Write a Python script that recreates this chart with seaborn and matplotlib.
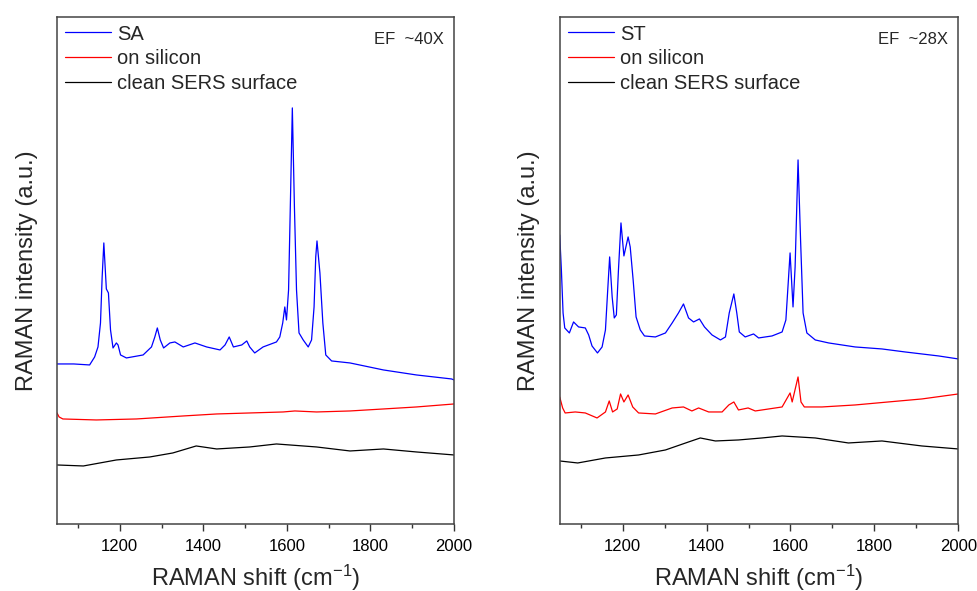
import matplotlib
matplotlib.use("Agg")
import matplotlib.pyplot as plt
import seaborn as sns
import pandas as pd

# Raman shift (cm-1) / intensity (a.u.)
sa_x = [1050, 1090, 1128, 1140, 1148, 1154, 1158, 1162, 1168, 1173, 1178, 1184, 1192, 1196, 1202, 1216,
        1256, 1276, 1284, 1290, 1297, 1305, 1320, 1332, 1352, 1380, 1408, 1440, 1452, 1462, 1472, 1492,
        1504, 1511, 1523, 1543, 1575, 1583, 1590, 1595, 1599, 1604, 1609, 1613, 1618, 1623, 1629, 1639,
        1651, 1659, 1665, 1669, 1672, 1679, 1686, 1693, 1707, 1751, 1831, 1910, 1994, 2000]
sa_y = [160, 160, 159, 167, 177, 201, 247, 281, 235, 231, 194, 176, 181, 179, 169, 166,
        169, 177, 187, 196, 184, 176, 181, 182, 177, 181, 177, 174, 179, 187, 177, 179,
        183, 177, 171, 177, 182, 187, 201, 217, 204, 234, 334, 416, 317, 234, 191, 184,
        177, 184, 217, 267, 283, 251, 201, 169, 163, 161, 154, 149, 145, 144]

si_a_x = [1050, 1055, 1064, 1144, 1240, 1352, 1432, 1511, 1591, 1619, 1671, 1751, 1831, 1910, 2000]
si_a_y = [111, 107, 105, 104, 105, 108, 110, 111, 112, 113, 112, 113, 115, 117, 120]

cl_a_x = [1050, 1113, 1192, 1272, 1327, 1383, 1432, 1511, 1575, 1671, 1751, 1831, 1910, 2000]
cl_a_y = [59, 58, 64, 67, 71, 78, 75, 77, 80, 77, 73, 75, 72, 69]

st_x = [1050, 1054, 1058, 1062, 1073, 1083, 1095, 1111, 1119, 1127, 1140, 1151, 1159, 1164, 1169, 1175,
        1180, 1185, 1190, 1196, 1203, 1213, 1218, 1225, 1232, 1242, 1252, 1278, 1302, 1318, 1333, 1345,
        1357, 1369, 1383, 1395, 1413, 1433, 1445, 1454, 1465, 1472, 1478, 1492, 1512, 1524, 1556, 1580,
        1589, 1595, 1599, 1606, 1611, 1618, 1624, 1630, 1639, 1659, 1691, 1754, 1818, 1873, 1953, 2000]
st_y = [289, 254, 211, 196, 191, 202, 197, 196, 189, 178, 171, 177, 194, 231, 267, 227,
        206, 209, 254, 301, 268, 287, 277, 244, 207, 194, 188, 187, 191, 201, 211, 220,
        206, 202, 205, 197, 189, 184, 187, 211, 230, 211, 192, 187, 190, 186, 188, 192,
        204, 244, 271, 217, 257, 364, 284, 211, 191, 184, 181, 177, 175, 172, 168, 165]

si_b_x = [1050, 1057, 1063, 1087, 1111, 1139, 1159, 1168, 1176, 1187, 1195, 1203, 1213, 1224, 1238, 1278,
          1318, 1345, 1365, 1381, 1405, 1437, 1453, 1465, 1476, 1499, 1516, 1580, 1599, 1604, 1618, 1625,
          1633, 1675, 1754, 1833, 1913, 2000]
si_b_y = [127, 116, 111, 112, 111, 106, 112, 123, 112, 115, 130, 122, 129, 117, 111, 110,
          116, 117, 113, 116, 112, 112, 119, 122, 114, 116, 113, 117, 131, 122, 147, 122,
          117, 117, 119, 122, 125, 130]

cl_b_x = [1050, 1093, 1159, 1238, 1302, 1357, 1385, 1421, 1476, 1532, 1580, 1659, 1738, 1818, 1913, 2000]
cl_b_y = [63, 61, 66, 69, 74, 82, 86, 83, 84, 86, 88, 86, 81, 83, 78, 75]

labels_a = ['SA', 'on silicon', 'clean SERS surface']
labels_b = ['ST', 'on silicon', 'clean SERS surface']
ef_a = 'EF  ~40X'
ef_b = 'EF  ~28X'
colors = ['#0000ff', '#ff0000', '#000000']


def make_df(xs, ys, names):
    parts = []
    for x, y, n in zip(xs, ys, names):
        parts.append(pd.DataFrame({'shift': x, 'intensity': y, 'series': n}))
    return pd.concat(parts, ignore_index=True)


df_a = make_df([sa_x, si_a_x, cl_a_x], [sa_y, si_a_y, cl_a_y], labels_a)
df_b = make_df([st_x, si_b_x, cl_b_x], [st_y, si_b_y, cl_b_y], labels_b)

sns.set_style('ticks')
plt.rcParams['font.family'] = ['Liberation Sans', 'DejaVu Sans']
plt.rcParams['mathtext.fontset'] = 'custom'
plt.rcParams['mathtext.rm'] = 'Liberation Sans'
plt.rcParams['mathtext.default'] = 'regular'

fig = plt.figure(figsize=(9.78, 5.91), dpi=100)
ax1 = fig.add_axes([0.0583, 0.1134, 0.406, 0.858])
ax2 = fig.add_axes([0.5723, 0.1134, 0.4076, 0.858])

for ax, df, labels, ef in [(ax1, df_a, labels_a, ef_a), (ax2, df_b, labels_b, ef_b)]:
    sns.lineplot(data=df, x='shift', y='intensity', hue='series', hue_order=labels,
                 palette=colors, estimator=None, sort=False, linewidth=0.9, ax=ax)
    ax.set_xlim(1050, 2000)
    ax.set_ylim(0, 507)
    ax.set_xticks([1200, 1400, 1600, 1800, 2000])
    ax.set_xticks(range(1100, 2000, 200), minor=True)
    ax.set_yticks([])
    ax.tick_params(axis='x', which='major', direction='out', length=5, width=1,
                   labelsize=12, colors='#333333', labelcolor='black', pad=6)
    ax.tick_params(axis='x', which='minor', direction='out', length=3, width=1, colors='#333333')
    for sp in ax.spines.values():
        sp.set_visible(True)
        sp.set_color('#444444')
        sp.set_linewidth(1.1)
    ax.set_xlabel('RAMAN shift (cm$^{-1}$)', fontsize=17, labelpad=6)
    ax.set_ylabel('RAMAN intensity (a.u.)', fontsize=17, labelpad=14)
    handles, labs = ax.get_legend_handles_labels()
    ax.legend(handles, labs, loc='upper left', bbox_to_anchor=(0.02, 0.985), frameon=False,
              fontsize=14.5, handlelength=2.3, handletextpad=0.3, labelspacing=0.28,
              borderpad=0, borderaxespad=0)
    ax.text(0.975, 0.955, ef, transform=ax.transAxes, ha='right', va='center', fontsize=12)

fig.savefig('out.png', dpi=100)
